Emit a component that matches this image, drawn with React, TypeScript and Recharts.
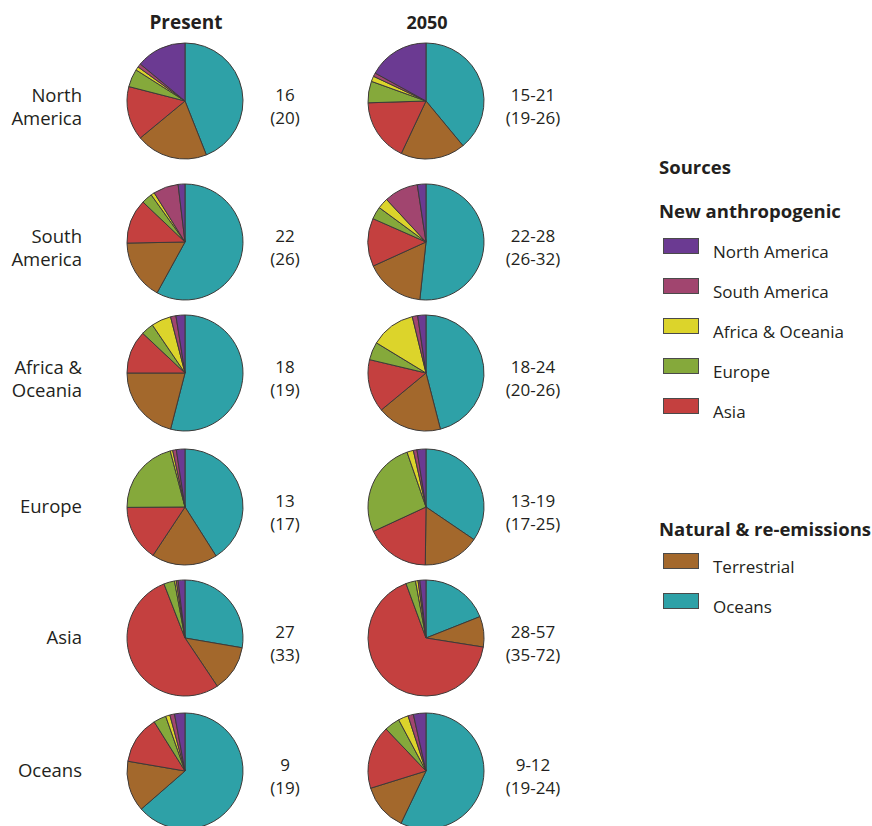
import React from 'react';
import { PieChart, Pie, Cell } from 'recharts';

// slice order, clockwise from 12 o'clock
const sources = ['Oceans', 'Terrestrial', 'Asia', 'Europe', 'Africa & Oceania', 'South America', 'North America'];
const colors = ['#2ea1a7', '#a3682c', '#c4403f', '#85a93b', '#dcd42b', '#a1456f', '#6b3a92'];

const regions = ['North\nAmerica', 'South\nAmerica', 'Africa &\nOceania', 'Europe', 'Asia', 'Oceans'];

// shares (%)
const present = [
  [44, 20, 15, 5, 1, 1, 14],
  [58, 16.7, 12.4, 3, 1, 7, 1.9],
  [54, 21, 12, 3.5, 5.5, 1.5, 2.5],
  [41, 18.3, 15.6, 21, 0.7, 1, 2.4],
  [27.7, 12.9, 53.5, 3, 0.5, 0.5, 1.9],
  [63.6, 14.1, 13.4, 3.5, 1.2, 1.3, 2.9],
];
const future = [
  [39, 18, 17.5, 6, 1.5, 1, 17],
  [51.7, 16.5, 13.4, 3.5, 3, 9.5, 2.4],
  [46, 18, 14.7, 5, 12.5, 1.5, 2.3],
  [34.5, 15.7, 17.9, 26.6, 1.8, 1, 2.5],
  [19, 8.5, 66.9, 2.7, 0.7, 0.5, 1.7],
  [57.1, 13.1, 17.7, 4.3, 2.8, 1.5, 3.5],
];

const presentTotals = ['16', '22', '18', '13', '27', '9'];
const presentTotalsAll = ['(20)', '(26)', '(19)', '(17)', '(33)', '(19)'];
const futureTotals = ['15-21', '22-28', '18-24', '13-19', '28-57', '9-12'];
const futureTotalsAll = ['(19-26)', '(26-32)', '(20-26)', '(17-25)', '(35-72)', '(19-24)'];

const anthropogenic = ['North America', 'South America', 'Africa & Oceania', 'Europe', 'Asia'];
const natural = ['Terrestrial', 'Oceans'];

const W = 872;
const H = 826;
const rowY = [101, 242, 373, 507, 638, 771];
const colX = [185, 426];
const R = 58;

const font = '"Open Sans", "Noto Sans", sans-serif';
const textColor = '#231f20';

const toData = (vals: number[]) => vals.map((v, i) => ({ name: sources[i], value: v }));

const Label: React.FC<{ x: number; y: number; text: string; align?: 'left' | 'center' | 'right'; bold?: boolean; size?: number }> = ({ x, y, text, align = 'center', bold, size = 17 }) => {
  const lines = text.split('\n');
  const lh = 23;
  const top = y - (lines.length * lh) / 2;
  const style: React.CSSProperties = {
    position: 'absolute',
    top,
    fontFamily: font,
    fontSize: size,
    fontWeight: bold ? 700 : 400,
    lineHeight: `${lh}px`,
    color: textColor,
    whiteSpace: 'nowrap',
  };
  if (align === 'right') {
    style.right = W - x;
    style.textAlign = 'right';
  } else if (align === 'left') {
    style.left = x;
  } else {
    style.left = x - 100;
    style.width = 200;
    style.textAlign = 'center';
  }
  return (
    <div style={style}>
      {lines.map((l, i) => (
        <div key={i}>{l}</div>
      ))}
    </div>
  );
};

const colorOf = (name: string) => colors[sources.indexOf(name)];

export default function App() {
  const legendRows = [
    ...anthropogenic.map((n, i) => ({ n, y: 251 + i * 40 })),
    ...natural.map((n, i) => ({ n, y: 566 + i * 40 })),
  ];
  return (
    <div style={{ position: 'absolute', left: 0, top: 0, width: W, height: H, background: '#fff', overflow: 'hidden' }}>
      <PieChart width={W} height={H} margin={{ top: 0, right: 0, bottom: 0, left: 0 }} style={{ position: 'absolute', left: 0, top: 0 }}>
        {[present, future].map((set, c) =>
          set.map((vals, r) => (
            <Pie
              key={`${c}-${r}`}
              data={toData(vals)}
              dataKey="value"
              cx={colX[c]}
              cy={rowY[r]}
              outerRadius={R}
              innerRadius={0}
              startAngle={90}
              endAngle={-270}
              stroke="#3d3a38"
              strokeWidth={1}
              isAnimationActive={false}
              label={false}
              labelLine={false}
            >
              {vals.map((_, i) => (
                <Cell key={i} fill={colors[i]} />
              ))}
            </Pie>
          ))
        )}
      </PieChart>

      <Label x={186} y={22} text="Present" bold size={19} />
      <Label x={427} y={22} text="2050" bold size={18} />

      {regions.map((reg, r) => (
        <React.Fragment key={reg}>
          <Label x={82} y={rowY[r] + (reg.includes('\n') ? 5 : -2)} text={reg} align="right" size={18.5} />
          <Label x={285} y={rowY[r] + 5} text={`${presentTotals[r]}\n${presentTotalsAll[r]}`} />
          <Label x={533} y={rowY[r] + 5} text={`${futureTotals[r]}\n${futureTotalsAll[r]}`} />
        </React.Fragment>
      ))}

      <Label x={659} y={166} text="Sources" align="left" bold size={18.5} />
      <Label x={659} y={210} text="New anthropogenic" align="left" bold size={18.5} />
      <Label x={659} y={528} text="Natural & re-emissions" align="left" bold size={18.5} />

      {legendRows.map(({ n, y }) => (
        <React.Fragment key={n}>
          <div
            style={{
              position: 'absolute',
              left: 663,
              top: y - 13,
              width: 36,
              height: 16,
              background: colorOf(n),
              border: '1px solid #4a4a4a',
              boxSizing: 'border-box',
            }}
          />
          <Label x={713} y={y} text={n} align="left" size={17} />
        </React.Fragment>
      ))}
    </div>
  );
}
